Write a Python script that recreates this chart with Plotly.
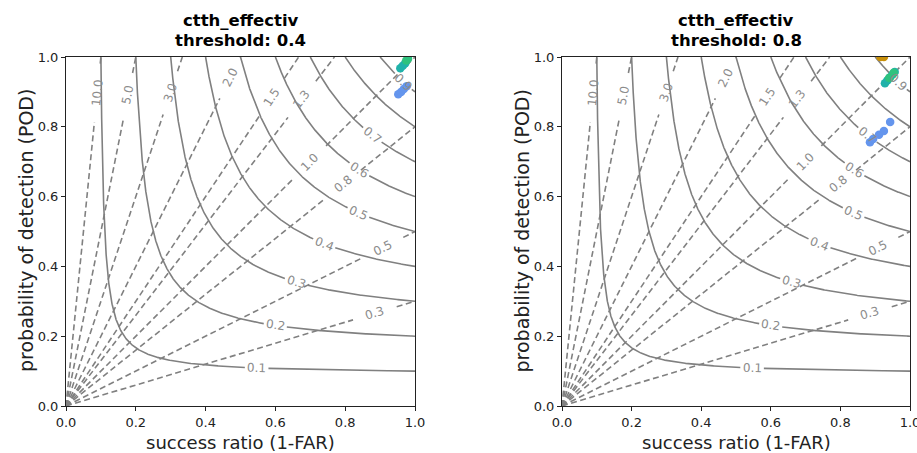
import numpy as np
import plotly.graph_objects as go

# ---------------- data ----------------
csi_levels = [0.1, 0.2, 0.3, 0.4, 0.5, 0.6, 0.7, 0.8, 0.9]
csi_label_sr = [0.547, 0.60, 0.66, 0.74, 0.837, 0.84, 0.877, None, 0.966]
bias_levels = [0.3, 0.5, 0.8, 1.0, 1.3, 1.5, 2.0, 3.0, 5.0, 10.0]
bias_label_sr = [0.885, 0.908, 0.794, 0.699, 0.676, 0.59, 0.47, 0.299, 0.178, 0.0897]
tick_vals = [0.0, 0.2, 0.4, 0.6, 0.8, 1.0]
tick_text = ["0.0", "0.2", "0.4", "0.6", "0.8", "1.0"]

titles = ["ctth_effectiv", "ctth_effectiv"]
thresholds = ["threshold: 0.4", "threshold: 0.8"]

# points per panel: (success ratio, POD)
left_series = {
    "blue": ([0.952, 0.960, 0.968, 0.976], [0.893, 0.900, 0.908, 0.916]),
    "teal": ([0.958, 0.965, 0.972], [0.968, 0.975, 0.982]),
    "green": ([0.975, 0.980], [0.990, 0.995]),
}
right_series = {
    "orange": ([0.915, 0.925], [1.0, 1.0]),
    "blue": ([0.885, 0.894, 0.911, 0.925, 0.943], [0.756, 0.765, 0.777, 0.788, 0.814]),
    "teal": ([0.928, 0.935, 0.943, 0.950, 0.956], [0.925, 0.933, 0.942, 0.950, 0.957]),
    "green": ([0.940, 0.953], [0.940, 0.955]),
}
series_colors = {
    "blue": "#6495ED",
    "teal": "#20B2AA",
    "green": "#2EC27E",
    "orange": "#C8900A",
}

# ---------------- layout constants ----------------
W, H = 917, 453
PX = 349.0                   # plot size in px
LINE_C = "#808080"
LABEL_C = "#8c8c8c"
LABEL_FS = 12


def fx(px):  # pixel x -> paper fraction
    return min(1.0, max(0.0, px / W))


def fy(py):  # pixel y -> paper fraction
    return min(1.0, max(0.0, 1 - py / H))


fig = go.Figure()


def csi_curve(c, label_sr):
    t = np.linspace(0, 1, 800)
    sr = c + (1 - c) * t ** 3
    pod = 1.0 / (1.0 / c + 1.0 - 1.0 / sr)
    pod = np.clip(pod, 0, 1)
    x = list(sr)
    y = list(pod)
    if label_sr is not None:
        lx = label_sr
        ly = 1.0 / (1.0 / c + 1.0 - 1.0 / lx)
        r = 11.5 / PX
        xs, ys = [], []
        for a, b in zip(x, y):
            if (a - lx) ** 2 + (b - ly) ** 2 < r * r:
                if xs and xs[-1] is not None:
                    xs.append(None); ys.append(None)
            else:
                xs.append(a); ys.append(b)
        return xs, ys, (lx, ly)
    return x, y, None


def bias_line(b, label_sr):
    end_x = min(1.0, 1.0 / b)
    lx = label_sr
    ly = b * lx
    txt = f"{b:.1f}"
    r = (len(txt) * 6.6 + 3) / PX
    d = np.hypot(1, b)
    dx = r / d
    xs = [0.0, lx - dx, None, lx + dx, end_x]
    ys = [0.0, b * (lx - dx), None, b * (lx + dx), b * end_x]
    return xs, ys, (lx, ly), txt


panels = [("x", "y", left_series), ("x2", "y2", right_series)]
for xa, ya, series in panels:
    for c, lsr in zip(csi_levels, csi_label_sr):
        xs, ys, lab = csi_curve(c, lsr)
        fig.add_trace(go.Scatter(x=xs, y=ys, mode="lines", xaxis=xa, yaxis=ya,
                                 line=dict(color=LINE_C, width=1.6),
                                 hoverinfo="skip", showlegend=False))
        if lab is not None:
            lx, ly = lab
            ang = np.degrees(np.arctan(ly ** 2 / lx ** 2))
            fig.add_annotation(x=lx, y=ly, xref=xa, yref=ya, text=f"{c:.1f}",
                               showarrow=False, textangle=ang,
                               font=dict(size=LABEL_FS, color=LABEL_C, family="DejaVu Sans"))
    for b, lsr in zip(bias_levels, bias_label_sr):
        xs, ys, lab, txt = bias_line(b, lsr)
        fig.add_trace(go.Scatter(x=xs, y=ys, mode="lines", xaxis=xa, yaxis=ya,
                                 line=dict(color=LINE_C, width=1.6, dash="6px,3.5px"),
                                 hoverinfo="skip", showlegend=False))
        lx, ly = lab
        ang = -np.degrees(np.arctan(b))
        fig.add_annotation(x=lx, y=ly, xref=xa, yref=ya, text=txt,
                           showarrow=False, textangle=ang,
                           font=dict(size=LABEL_FS, color=LABEL_C, family="DejaVu Sans"))
    for name, (sx, sy) in series.items():
        fig.add_trace(go.Scatter(x=sx, y=sy, mode="markers", xaxis=xa, yaxis=ya,
                                 marker=dict(color=series_colors[name], size=8.5,
                                             line=dict(width=0)),
                                 cliponaxis=True, showlegend=False, name=name))

left_dom = [fx(66), fx(415)]
right_dom = [fx(562), fx(910)]
y_dom = [fy(406), fy(57)]

axis_common = dict(range=[0, 1], showgrid=False, zeroline=False, showline=True,
                   linecolor="#222", linewidth=1, mirror=True, ticks="outside",
                   ticklen=4, tickcolor="#222", tickvals=tick_vals, ticktext=tick_text,
                   tickfont=dict(size=13, color="#222", family="DejaVu Sans"),
                   fixedrange=True, automargin=False, ticklabeloverflow="allow")

fig.update_layout(
    width=W, height=H, margin=dict(l=0, r=0, t=0, b=0, autoexpand=False),
    paper_bgcolor="white", plot_bgcolor="white", showlegend=False,
    font=dict(family="DejaVu Sans"),
    xaxis=dict(domain=left_dom, anchor="y", **axis_common),
    yaxis=dict(domain=y_dom, anchor="x", **axis_common),
    xaxis2=dict(domain=right_dom, anchor="y2", **axis_common),
    yaxis2=dict(domain=y_dom, anchor="x2", **axis_common),
)

centers_px = [(66 + 415) / 2, (562 + 910) / 2]
for i, cpx in enumerate(centers_px):
    cx = fx(cpx)
    fig.add_annotation(x=cx, y=fy(20.5), xref="paper", yref="paper",
                       text=f"<b>{titles[i]}</b>", showarrow=False,
                       xanchor="center", yanchor="middle",
                       font=dict(size=16.5, color="black", family="DejaVu Sans"))
    fig.add_annotation(x=cx, y=fy(40), xref="paper", yref="paper",
                       text=f"<b>{thresholds[i]}</b>", showarrow=False,
                       xanchor="center", yanchor="middle",
                       font=dict(size=16.5, color="black", family="DejaVu Sans"))
    fig.add_annotation(x=cx, y=fy(442), xref="paper", yref="paper",
                       text="success ratio (1-FAR)", showarrow=False,
                       xanchor="center", yanchor="middle",
                       font=dict(size=18, color="#222", family="DejaVu Sans"))
    fig.add_annotation(x=fx(cpx - 174.5 - 40), y=fy(231),
                       xref="paper", yref="paper",
                       text="probability of detection (POD)", showarrow=False,
                       textangle=-90, xanchor="center", yanchor="middle",
                       font=dict(size=19, color="#222", family="DejaVu Sans"))

fig.write_html("out.html")
